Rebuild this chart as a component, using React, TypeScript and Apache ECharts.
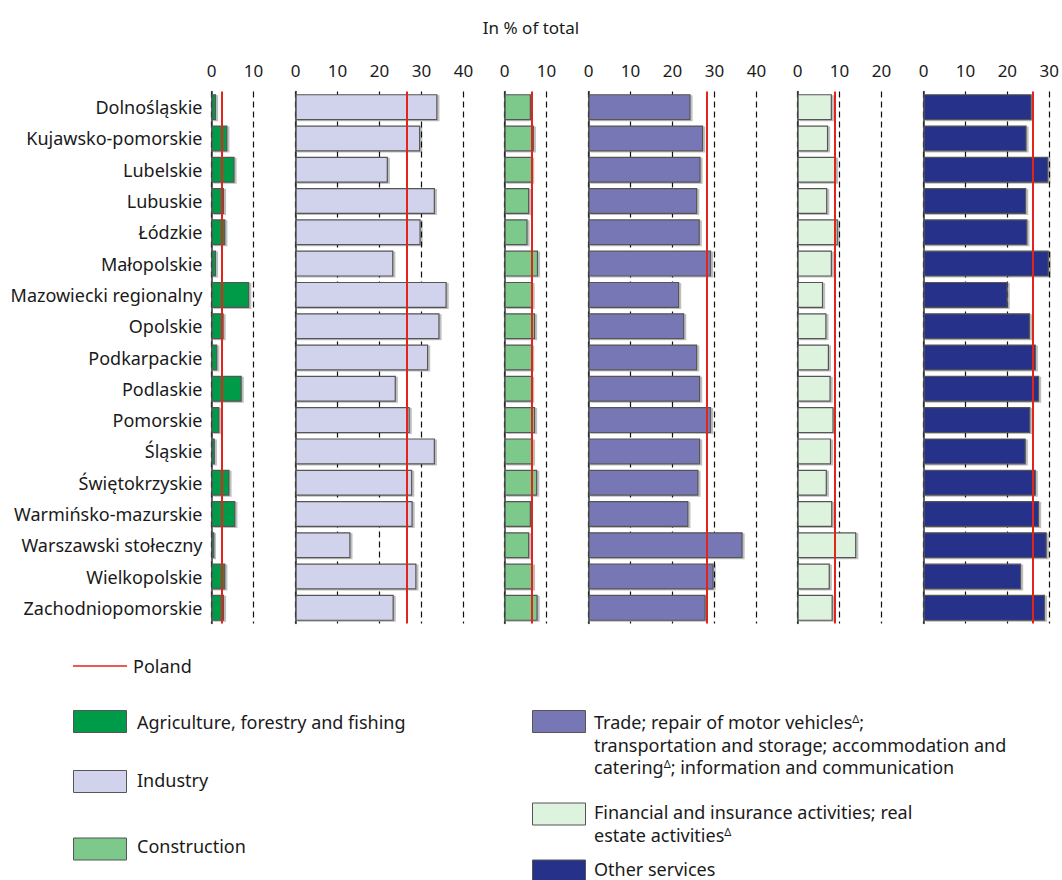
import React, { useEffect, useRef } from "react";
import * as echarts from "echarts";

const regions = [
  "Dolnośląskie",
  "Kujawsko-pomorskie",
  "Lubelskie",
  "Lubuskie",
  "Łódzkie",
  "Małopolskie",
  "Mazowiecki regionalny",
  "Opolskie",
  "Podkarpackie",
  "Podlaskie",
  "Pomorskie",
  "Śląskie",
  "Świętokrzyskie",
  "Warmińsko-mazurskie",
  "Warszawski stołeczny",
  "Wielkopolskie",
  "Zachodniopomorskie",
];

const agriculture = [1.1, 3.8, 5.5, 3.0, 3.3, 1.1, 9.0, 2.9, 1.4, 7.2, 1.9, 0.8, 4.3, 5.7, 0.7, 3.3, 3.0];
const industry = [33.8, 29.7, 22.0, 33.2, 29.8, 23.3, 36.0, 34.3, 31.6, 23.9, 27.2, 33.2, 27.8, 27.9, 13.1, 28.8, 23.4];
const construction = [6.3, 7.0, 6.6, 5.9, 5.5, 8.0, 6.7, 7.3, 6.6, 6.6, 7.3, 6.8, 7.8, 6.3, 5.9, 6.8, 7.9];
const trade = [24.3, 27.3, 26.7, 25.9, 26.5, 29.2, 21.6, 22.8, 25.9, 26.6, 29.2, 26.6, 26.2, 23.8, 36.7, 29.8, 27.9];
const financial = [8.2, 7.3, 9.2, 7.1, 9.6, 8.2, 6.1, 6.9, 7.5, 7.9, 8.6, 8.0, 7.0, 8.3, 14.0, 7.7, 8.4];
const otherServices = [25.8, 24.6, 29.8, 24.5, 24.8, 29.9, 20.1, 25.4, 26.8, 27.6, 25.5, 24.4, 26.8, 27.6, 29.4, 23.3, 29.0];

const sectorNames = [
  "Agriculture, forestry and fishing",
  "Industry",
  "Construction",
  "Trade; repair of motor vehicles; transportation and storage; accommodation and catering; information and communication",
  "Financial and insurance activities; real estate activities",
  "Other services",
];
const polandValues = [2.5, 26.4, 6.6, 28.2, 8.8, 26.1];
const axisMaxes = [10, 40, 10, 40, 20, 30];

const FONT = "'Noto Sans', 'Open Sans', sans-serif";
const COLORS = ["#009b48", "#d1d2ec", "#7dc98b", "#7777b5", "#ddf3dd", "#263189"];
const RED = "#e3241b";
const TEXT = "#1a1a1a";

export default function App() {
  const ref = useRef<HTMLDivElement>(null);

  useEffect(() => {
    if (!ref.current) return;
    const chart = echarts.init(ref.current, null, { renderer: "svg" });
    const seriesData = [agriculture, industry, construction, trade, financial, otherServices];
    const lefts = [211.5, 295.5, 504.5, 588.5, 797.5, 923.5];
    const scale = 4.2;
    const top = 91.5;
    const height = 532;

    const grids = lefts.map((l, i) => ({
      left: l,
      top,
      width: axisMaxes[i] * scale,
      height,
      containLabel: false,
    }));

    const xAxes = axisMaxes.map((m, i) => ({
      type: "value",
      gridIndex: i,
      position: "top",
      min: 0,
      max: m,
      interval: 10,
      axisLine: { show: false },
      axisTick: { show: false },
      axisLabel: {
        show: true,
        margin: 13,
        fontSize: 17,
        fontFamily: FONT,
        color: TEXT,
      },
      splitLine: {
        show: true,
        lineStyle: { color: "#111", width: 1.2, type: [6, 4] },
      },
    }));

    const yAxes = axisMaxes.map((_, i) => ({
      type: "category",
      gridIndex: i,
      data: regions,
      inverse: true,
      axisLine: { show: true, lineStyle: { color: "#333", width: 1.5 } },
      axisTick: { show: false },
      axisLabel: {
        show: i === 0,
        margin: 9,
        fontSize: 18,
        fontFamily: FONT,
        color: TEXT,
      },
      splitLine: { show: false },
    }));

    const series = seriesData.map((d, i) => ({
      type: "bar",
      name: sectorNames[i],
      xAxisIndex: i,
      yAxisIndex: i,
      data: d,
      barWidth: 26,
      itemStyle: {
        color: COLORS[i],
        borderColor: "#555",
        borderWidth: 1.2,
        shadowColor: "rgba(0,0,0,0.25)",
        shadowBlur: 1,
        shadowOffsetX: 2,
        shadowOffsetY: 1,
      },
      markLine: {
        silent: true,
        symbol: "none",
        label: { show: false },
        lineStyle: { color: RED, width: 2, type: "solid" },
        data: [{ xAxis: polandValues[i] }],
      },
    }));

    const sup = { fontSize: 11, fontFamily: FONT, fill: TEXT, verticalAlign: "top", lineHeight: 19 };
    const mkText = (x: number, y: number, text: string) => ({
      type: "text",
      style: {
        x,
        y,
        text,
        fill: TEXT,
        fontSize: 18,
        fontFamily: FONT,
        align: "left",
        textAlign: "left",
        verticalAlign: "middle",
        textVerticalAlign: "middle",
        lineHeight: 19,
        rich: { sup, n: { fontSize: 18, fontFamily: FONT, fill: TEXT, lineHeight: 19 } },
      },
    });
    const mkRect = (x: number, y: number, color: string) => ({
      type: "rect",
      shape: { x, y, width: 53, height: 22 },
      style: { fill: color, stroke: "#555", lineWidth: 1 },
    });

    const graphic = [
      {
        type: "text",
        style: {
          x: 531,
          y: 27,
          text: "In % of total",
          fill: TEXT,
          fontSize: 17,
          fontFamily: FONT,
          align: "center",
          textAlign: "center",
          verticalAlign: "middle",
          textVerticalAlign: "middle",
        },
      },
      {
        type: "line",
        shape: { x1: 73, y1: 666, x2: 127, y2: 666 },
        style: { stroke: RED, lineWidth: 1.5 },
      },
      mkText(133, 666, "Poland"),
      mkRect(73.5, 710.5, COLORS[0]),
      mkText(137, 722, "Agriculture, forestry and fishing"),
      mkRect(73.5, 770.5, COLORS[1]),
      mkText(137, 780, "Industry"),
      mkRect(73.5, 838, COLORS[2]),
      mkText(137, 846, "Construction"),
      mkRect(532.5, 710.5, COLORS[3]),
      mkText(594, 722, "{n|Trade; repair of motor vehicles}{sup|Δ}{n|;}"),
      mkText(594, 745, "transportation and storage; accommodation and"),
      mkText(594, 767, "{n|catering}{sup|Δ}{n|; information and communication}"),
      mkRect(532.5, 803, COLORS[4]),
      mkText(594, 812, "Financial and insurance activities; real"),
      mkText(594, 835, "{n|estate activities}{sup|Δ}"),
      mkRect(532.5, 860, COLORS[5]),
      mkText(594, 869, "Other services"),
    ];

    chart.setOption({
      animation: false,
      backgroundColor: "#ffffff",
      grid: grids,
      xAxis: xAxes,
      yAxis: yAxes,
      series,
      graphic,
    } as any);

    return () => chart.dispose();
  }, []);

  return (
    <div
      ref={ref}
      style={{ position: "absolute", left: 0, top: 0, width: 1062, height: 880 }}
    />
  );
}
